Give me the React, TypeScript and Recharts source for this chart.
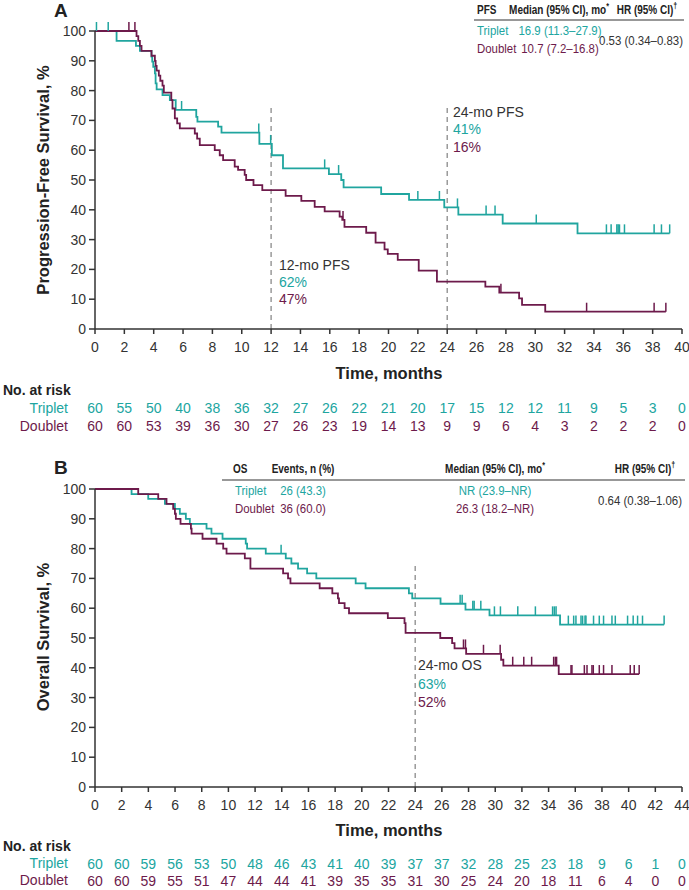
import React from 'react'
import { ComposedChart, Line, Scatter, XAxis, YAxis, ReferenceLine } from 'recharts'

const TEAL = '#20a59f'
const PURPLE = '#6d1a4b'
const INK = '#333333'
const FONT = '"Liberation Sans", Arial, sans-serif'

// Panel A - PFS (time in months, survival %)
const tripletPfs = [
  [0, 100], [1.47, 96.7], [2.79, 95], [3.06, 93.3], [3.85, 91.4], [3.9, 89.7], [3.97, 88],
  [4.08, 85.8], [4.13, 82.4], [4.2, 80.4], [4.6, 78.5], [5.1, 76.8], [5.5, 73.5], [6.9, 71.2],
  [6.98, 69.6], [8.39, 67.9], [8.62, 65.9], [11.2, 62.1], [12.05, 58.3], [12.81, 53.9],
  [15.94, 52], [16.78, 50], [16.94, 47.5], [19.5, 45.3], [21.4, 43.3], [23.8, 40.8],
  [24.76, 38.4], [27.78, 35.4], [32.88, 32.1], [39.16, 32.1],
]
const doubletPfs = [
  [0, 100], [2.83, 98.3], [2.95, 96.7], [3.06, 95], [3.17, 93.3], [3.85, 91.7], [4.08, 90],
  [4.13, 88.3], [4.2, 86.7], [4.35, 85], [4.45, 83.3], [4.6, 81.7], [4.69, 79.3], [5.2, 76.8],
  [5.28, 74], [5.44, 70.7], [5.6, 69], [5.78, 67.3], [6.8, 65.6], [6.96, 63.9], [7.14, 61.7],
  [8.16, 60], [8.5, 58.3], [8.73, 56.7], [9.52, 54.5], [9.75, 53.4], [10.2, 51.7], [10.3, 50],
  [10.8, 48.3], [11.4, 46.6], [12.99, 44.7], [14.06, 43], [14.97, 41], [15.65, 39.5],
  [16.67, 37.7], [16.85, 36.6], [17.0, 34.3], [18.48, 32.3], [19.12, 29], [19.73, 26.7],
  [19.95, 25.2], [20.63, 23.2], [22.06, 19.6], [23.3, 15.9], [26.6, 14.2], [27.55, 12.2],
  [28.9, 10.3], [29.1, 8.1], [30.68, 5.8], [38.9, 5.8],
]
const tripletPfsCensor = [
  [0.1, 100], [0.9, 100], [5.9, 73.5], [11.16, 65.9], [11.97, 62.1], [15.65, 53.9], [16.6, 52],
  [22.0, 43.3], [23.47, 43.3], [24.7, 40.8], [26.65, 38.4], [27.26, 38.4], [30.07, 35.4],
  [34.85, 32.1], [35.17, 32.1], [35.56, 32.1], [35.65, 32.1], [35.74, 32.1], [36.08, 32.1],
  [38.1, 32.1], [38.6, 32.1], [39.16, 32.1],
]
const doubletPfsCensor = [
  [2.31, 100], [2.72, 100], [16.9, 36.6], [27.66, 12.2], [33.5, 5.8], [38.1, 5.8], [38.9, 5.8],
]

// Panel B - OS
const tripletOs = [
  [0, 100], [2.74, 98.3], [3.99, 96.7], [5.24, 95], [5.99, 93.3], [6.36, 91.7], [6.81, 90],
  [7.11, 88.3], [8.36, 86.7], [8.73, 85], [9.56, 83.3], [11.3, 81.7], [11.4, 80], [12.8, 78.3],
  [14.3, 76.7], [14.72, 75], [15.22, 73.3], [15.9, 71.7], [16.59, 70], [19.54, 68.3],
  [20.28, 66.7], [23.53, 65], [23.78, 63.3], [25.9, 61.5], [27.77, 59.5], [29.57, 57.6],
  [34.86, 54.5], [42.66, 54.5],
]
const doubletOs = [
  [0, 100], [3.24, 98.3], [4.74, 96.7], [5.36, 95], [5.86, 93.3], [5.99, 91.7], [6.06, 90],
  [6.41, 88.3], [7.19, 86.7], [7.24, 85], [8.06, 83.3], [9.11, 81.7], [9.61, 80], [9.86, 78.3],
  [11.23, 76.7], [11.65, 73.3], [14.1, 71.7], [14.47, 70], [14.65, 68.3], [16.84, 66.7],
  [17.79, 65], [18.21, 63.3], [18.29, 61.7], [18.71, 60], [19.04, 58.3], [21.95, 56.7],
  [23.2, 55], [23.28, 51.7], [25.88, 50], [26.77, 48.3], [26.95, 46.5], [27.82, 44.7],
  [30.44, 42.7], [30.61, 40.7], [34.76, 37.9], [40.79, 37.9],
]
const tripletOsCensor = [
  [13.95, 78.3], [27.37, 61.5], [27.52, 61.5], [28.32, 59.5], [28.42, 59.5], [28.92, 59.5],
  [29.94, 57.6], [30.39, 57.6], [31.69, 57.6], [33.01, 57.6], [34.3, 57.6], [34.43, 57.6],
  [34.56, 57.6], [35.48, 54.5], [35.88, 54.5], [36.05, 54.5], [36.43, 54.5], [36.55, 54.5],
  [36.73, 54.5], [36.8, 54.5], [37.37, 54.5], [37.8, 54.5], [38.12, 54.5], [38.75, 54.5],
  [39.0, 54.5], [39.92, 54.5], [40.34, 54.5], [40.67, 54.5], [41.04, 54.5], [42.66, 54.5],
]
const doubletOsCensor = [
  [27.62, 46.5], [27.77, 46.5], [29.12, 44.7], [30.37, 44.7], [31.31, 40.7], [32.14, 40.7],
  [32.73, 40.7], [34.38, 40.7], [34.51, 40.7], [34.6, 40.7], [35.68, 37.9], [35.75, 37.9],
  [36.68, 37.9], [36.88, 37.9], [37.25, 37.9], [37.35, 37.9], [37.8, 37.9], [38.12, 37.9],
  [38.75, 37.9], [40.12, 37.9], [40.42, 37.9], [40.79, 37.9],
]

// ticks + numbers at risk
const ticksA = [0, 2, 4, 6, 8, 10, 12, 14, 16, 18, 20, 22, 24, 26, 28, 30, 32, 34, 36, 38, 40]
const riskTripletA = [60, 55, 50, 40, 38, 36, 32, 27, 26, 22, 21, 20, 17, 15, 12, 12, 11, 9, 5, 3, 0]
const riskDoubletA = [60, 60, 53, 39, 36, 30, 27, 26, 23, 19, 14, 13, 9, 9, 6, 4, 3, 2, 2, 2, 0]
const ticksB = [0, 2, 4, 6, 8, 10, 12, 14, 16, 18, 20, 22, 24, 26, 28, 30, 32, 34, 36, 38, 40, 42, 44]
const riskTripletB = [60, 60, 59, 56, 53, 50, 48, 46, 43, 41, 40, 39, 37, 37, 32, 28, 25, 23, 18, 9, 6, 1, 0]
const riskDoubletB = [60, 60, 59, 55, 51, 47, 44, 44, 41, 39, 35, 35, 31, 30, 25, 24, 20, 18, 11, 6, 4, 0, 0]
const yTicks = [0, 10, 20, 30, 40, 50, 60, 70, 80, 90, 100]

const toRows = (pts: number[][]) => pts.map(([t, s]) => ({ t, s }))

const censorShape = (color: string) => (props: any) => (
  <line x1={props.cx} x2={props.cx} y1={props.cy} y2={props.cy - 9} stroke={color} strokeWidth={1.5} />
)

function RiskTick(props: any) {
  const { x, y, payload, ticks, top, bottom, dTop, dBottom } = props
  const i = ticks.indexOf(payload.value)
  return (
    <g fontSize={14} fontFamily={FONT}>
      <text x={x} y={y + 17.5} textAnchor="middle" fill={INK}>{payload.value}</text>
      <text x={x} y={y + dTop} textAnchor="middle" fill={TEAL}>{top[i]}</text>
      <text x={x} y={y + dBottom} textAnchor="middle" fill={PURPLE}>{bottom[i]}</text>
    </g>
  )
}

interface PanelProps {
  height: number
  xMax: number
  ticks: number[]
  triplet: number[][]
  doublet: number[][]
  tripletCensor: number[][]
  doubletCensor: number[][]
  riskTop: number[]
  riskBottom: number[]
  refX: number[]
  dTop: number
  dBottom: number
}

function KMPanel(p: PanelProps) {
  return (
    <ComposedChart width={689} height={p.height} margin={{ top: 31, right: 7, left: 0, bottom: 0 }} style={{ fontFamily: FONT }}>
      <XAxis
        dataKey="t"
        type="number"
        domain={[0, p.xMax]}
        ticks={p.ticks}
        interval={0}
        height={p.height - 31 - 298}
        stroke={INK}
        strokeWidth={1.5}
        tickSize={5}
        tickMargin={0}
        tick={(tp: any) => (
          <RiskTick {...tp} ticks={p.ticks} top={p.riskTop} bottom={p.riskBottom} dTop={p.dTop} dBottom={p.dBottom} />
        )}
      />
      <YAxis
        type="number"
        domain={[0, 100]}
        ticks={yTicks}
        interval={0}
        width={95}
        stroke={INK}
        strokeWidth={1.5}
        tickSize={6}
        tickMargin={3}
        tick={{ fill: INK, fontSize: 14 }}
      />
      {p.refX.map((x) => (
        <ReferenceLine
          key={x}
          segment={[{ x, y: 0 }, { x, y: 75 }]}
          stroke="#8a8a8a"
          strokeWidth={1.3}
          strokeDasharray="5 4"
        />
      ))}
      <Line data={toRows(p.triplet)} dataKey="s" type="stepAfter" stroke={TEAL} strokeWidth={1.8} dot={false} isAnimationActive={false} />
      <Line data={toRows(p.doublet)} dataKey="s" type="stepAfter" stroke={PURPLE} strokeWidth={1.8} dot={false} isAnimationActive={false} />
      <Scatter data={toRows(p.tripletCensor)} dataKey="s" shape={censorShape(TEAL)} isAnimationActive={false} />
      <Scatter data={toRows(p.doubletCensor)} dataKey="s" shape={censorShape(PURPLE)} isAnimationActive={false} />
    </ComposedChart>
  )
}

// narrow text for the summary tables
function NText({ x, y, anchor = 'start', sx = 0.88, children, ...rest }: any) {
  return (
    <text transform={`translate(${x} ${y}) scale(${sx} 1)`} textAnchor={anchor} {...rest}>
      {children}
    </text>
  )
}

function Sup({ children }: { children: string }) {
  return <tspan fontSize={9} dy={-5}>{children}</tspan>
}

export default function App() {
  return (
    <div style={{ position: 'fixed', left: 0, top: 0, width: 689, height: 890, background: '#fff', overflow: 'hidden' }}>
      <div style={{ position: 'absolute', left: 0, top: 0 }}>
        <KMPanel
          height={440}
          xMax={40}
          ticks={ticksA}
          triplet={tripletPfs}
          doublet={doubletPfs}
          tripletCensor={tripletPfsCensor}
          doubletCensor={doubletPfsCensor}
          riskTop={riskTripletA}
          riskBottom={riskDoubletA}
          refX={[12, 24]}
          dTop={79}
          dBottom={97}
        />
      </div>
      <div style={{ position: 'absolute', left: 0, top: 458 }}>
        <KMPanel
          height={432}
          xMax={44}
          ticks={ticksB}
          triplet={tripletOs}
          doublet={doubletOs}
          tripletCensor={tripletOsCensor}
          doubletCensor={doubletOsCensor}
          riskTop={riskTripletB}
          riskBottom={riskDoubletB}
          refX={[24]}
          dTop={77}
          dBottom={94}
        />
      </div>
      <svg width={689} height={890} style={{ position: 'absolute', left: 0, top: 0, pointerEvents: 'none' }} fontFamily={FONT}>
        {/* panel A */}
        <text x={54} y={17} fontSize={19} fontWeight="bold" fill="#222">A</text>
        <g fontSize={12.5} fontWeight="bold" fill="#222">
          <NText x={477} y={13.5} sx={0.8}>PFS</NText>
          <NText x={559} y={13.5} sx={0.8} anchor="middle">Median (95% CI), mo<Sup>*</Sup></NText>
          <NText x={647} y={13.5} sx={0.8} anchor="middle">HR (95% CI)<Sup>†</Sup></NText>
        </g>
        <line x1={474} x2={684} y1={20} y2={20} stroke={INK} strokeWidth={1.2} />
        <g fontSize={13}>
          <NText x={477} y={35} fill={TEAL}>Triplet</NText>
          <NText x={560} y={35} fill={TEAL} anchor="middle">16.9 (11.3–27.9)</NText>
          <NText x={477} y={53} fill={PURPLE}>Doublet</NText>
          <NText x={560} y={53} fill={PURPLE} anchor="middle">10.7 (7.2–16.8)</NText>
          <NText x={641} y={44.5} fill={INK} anchor="middle">0.53 (0.34–0.83)</NText>
        </g>
        <text transform="translate(49,180) rotate(-90)" textAnchor="middle" fontSize={16.5} fontWeight="bold" fill="#222">Progression-Free Survival, %</text>
        <text x={389} y={379} textAnchor="middle" fontSize={16.5} fontWeight="bold" fill="#222">Time, months</text>
        <text x={3} y={395} fontSize={14} fontWeight="bold" fill="#222">No. at risk</text>
        <text x={68} y={413} fontSize={14} textAnchor="end" fill={TEAL}>Triplet</text>
        <text x={68} y={431} fontSize={14} textAnchor="end" fill={PURPLE}>Doublet</text>
        <g fontSize={14}>
          <text x={279} y={270} fill={INK}>12-mo PFS</text>
          <text x={279} y={287} fill={TEAL}>62%</text>
          <text x={279} y={304} fill={PURPLE}>47%</text>
          <text x={453} y={117} fill={INK}>24-mo PFS</text>
          <text x={453} y={134} fill={TEAL}>41%</text>
          <text x={453} y={152} fill={PURPLE}>16%</text>
        </g>

        {/* panel B */}
        <text x={54} y={474} fontSize={19} fontWeight="bold" fill="#222">B</text>
        <g fontSize={12.5} fontWeight="bold" fill="#222">
          <NText x={233} y={472.5} sx={0.8}>OS</NText>
          <NText x={303} y={472.5} sx={0.8} anchor="middle">Events, n (%)</NText>
          <NText x={495} y={472.5} sx={0.8} anchor="middle">Median (95% CI), mo<Sup>*</Sup></NText>
          <NText x={645} y={472.5} sx={0.8} anchor="middle">HR (95% CI)<Sup>†</Sup></NText>
        </g>
        <line x1={222} x2={685} y1={480} y2={480} stroke={INK} strokeWidth={1.2} />
        <g fontSize={13}>
          <NText x={235} y={495} fill={TEAL}>Triplet</NText>
          <NText x={303} y={495} fill={TEAL} anchor="middle">26 (43.3)</NText>
          <NText x={495} y={495} fill={TEAL} anchor="middle">NR (23.9–NR)</NText>
          <NText x={235} y={513} fill={PURPLE}>Doublet</NText>
          <NText x={303} y={513} fill={PURPLE} anchor="middle">36 (60.0)</NText>
          <NText x={495} y={513} fill={PURPLE} anchor="middle">26.3 (18.2–NR)</NText>
          <NText x={640} y={505} fill={INK} anchor="middle">0.64 (0.38–1.06)</NText>
        </g>
        <text transform="translate(49,637) rotate(-90)" textAnchor="middle" fontSize={16.5} fontWeight="bold" fill="#222">Overall Survival, %</text>
        <text x={389} y={836} textAnchor="middle" fontSize={16.5} fontWeight="bold" fill="#222">Time, months</text>
        <text x={3} y={851} fontSize={14} fontWeight="bold" fill="#222">No. at risk</text>
        <text x={68} y={868} fontSize={14} textAnchor="end" fill={TEAL}>Triplet</text>
        <text x={68} y={885} fontSize={14} textAnchor="end" fill={PURPLE}>Doublet</text>
        <g fontSize={14}>
          <text x={418} y={670} fill={INK}>24-mo OS</text>
          <text x={418} y={689} fill={TEAL}>63%</text>
          <text x={418} y={707} fill={PURPLE}>52%</text>
        </g>
      </svg>
    </div>
  )
}
